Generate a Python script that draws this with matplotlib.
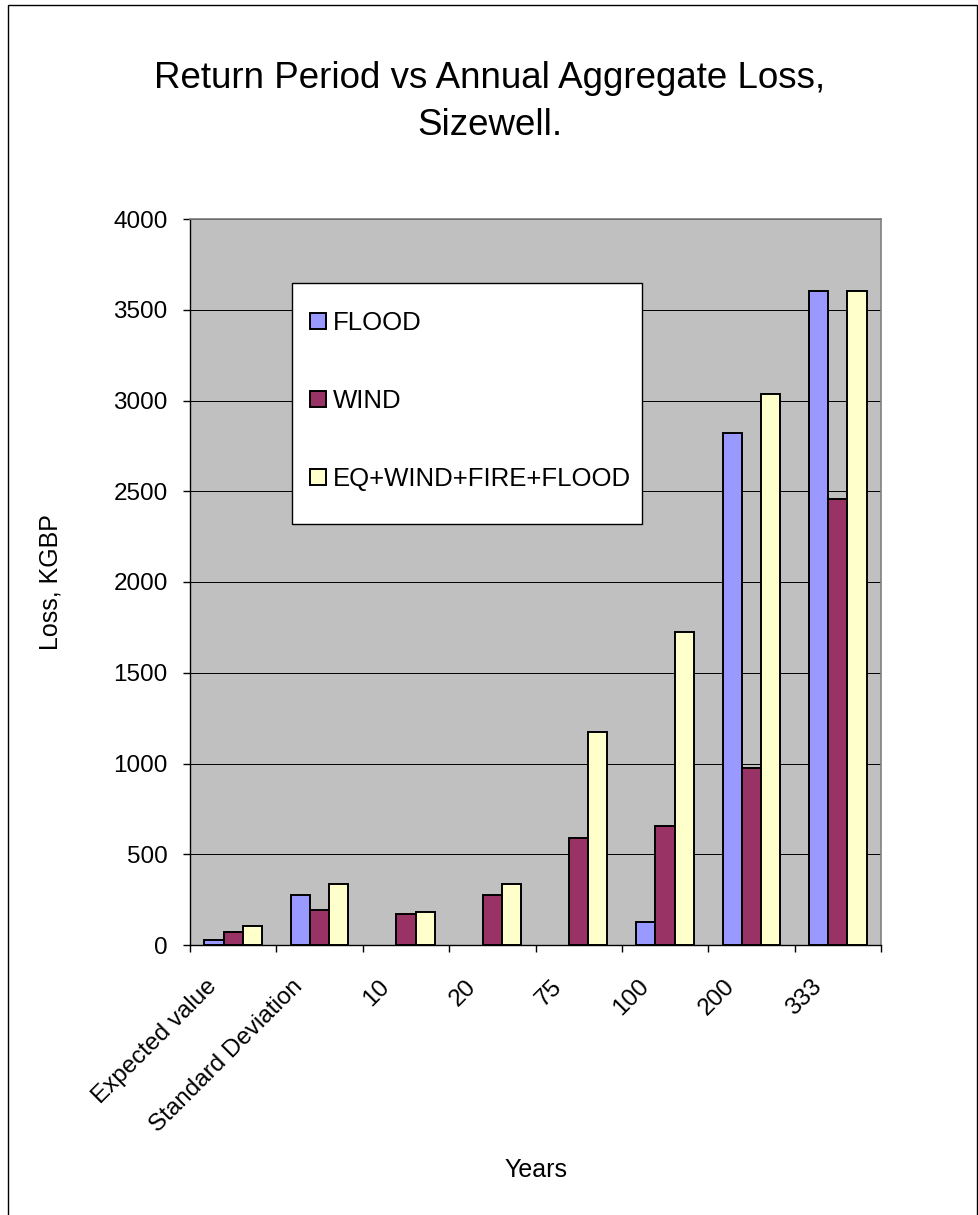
import numpy as np
import matplotlib
matplotlib.use("Agg")
import matplotlib.pyplot as plt
from matplotlib.patches import Rectangle
from matplotlib.transforms import ScaledTranslation

plt.rcParams['font.family'] = ['Liberation Sans', 'DejaVu Sans']

# data (KGBP); no FLOOD bar at 10, 20, 75 years
categories = ['Expected value', 'Standard Deviation', '10', '20', '75', '100', '200', '333']
flood = [25, 278, np.nan, np.nan, np.nan, 127, 2820, 3602]
wind = [70, 191, 170, 278, 592, 655, 976, 2455]
all_perils = [102, 337, 180, 337, 1173, 1725, 3036, 3602]
series_names = ['FLOOD', 'WIND', 'EQ+WIND+FIRE+FLOOD']
colors = ['#9999FF', '#993366', '#FFFFCC']

W, H = 979, 1215
fig = plt.figure(figsize=(W / 100, H / 100), dpi=100)

# outer chart frame
fig.patches.append(Rectangle((8 / W, -0.01), (977 - 8) / W, 1.01 - 5 / H,
                             transform=fig.transFigure, fill=False,
                             edgecolor='black', linewidth=1.0))

ax = fig.add_axes([190 / W, 1 - 945 / H, 691 / W, 726 / H])
ax.set_facecolor('#C0C0C0')

x = np.arange(len(categories))
w = 1 / 4.5
for i, (vals, name, c) in enumerate(zip([flood, wind, all_perils], series_names, colors)):
    ax.bar(x + (i - 1) * w, vals, width=w, color=c, edgecolor='black',
           linewidth=1.4, label=name, zorder=3)

ax.set_xlim(-0.5, len(categories) - 0.5)
ax.set_ylim(0, 4000)
ax.set_yticks(np.arange(0, 4001, 500))
ax.yaxis.grid(True, color='black', linewidth=0.7)
ax.set_axisbelow(True)

for side in ['top', 'right']:
    ax.spines[side].set_color('#808080')
    ax.spines[side].set_linewidth(1.2)
for side in ['left', 'bottom']:
    ax.spines[side].set_color('black')
    ax.spines[side].set_linewidth(1.0)

ax.tick_params(axis='y', direction='out', length=5, width=1, pad=11, labelsize=17.5)

# tick marks at category boundaries, labels at the centres
ax.set_xticks(np.arange(-0.5, len(categories), 1.0), minor=True)
ax.tick_params(axis='x', which='minor', direction='out', length=5, width=1)
ax.set_xticks(x)
ax.set_xticklabels(categories, rotation=45, ha='right', va='top', fontsize=17.5)
ax.tick_params(axis='x', which='major', length=0, pad=22)
for lab in ax.get_xticklabels():
    lab.set_transform(lab.get_transform() + ScaledTranslation(-0.12, 0, fig.dpi_scale_trans))

ax.set_ylabel('Loss, KGBP', fontsize=18)
ax.yaxis.set_label_coords(-0.184, 0.5)
ax.set_xlabel('Years', fontsize=18)
ax.xaxis.set_label_coords(0.5, -0.293)

fig.text(490 / W, 1 - 102 / H, 'Return Period vs Annual Aggregate Loss,\nSizewell.',
         ha='center', va='center', fontsize=26.5, linespacing=1.45)

# legend box
ax.add_patch(Rectangle(((292 - 190) / 691, (945 - 524) / 726), 350 / 691, 241 / 726,
                       transform=ax.transAxes, facecolor='white', edgecolor='black',
                       linewidth=1.0, zorder=5))
leg = ax.legend(loc='center left', bbox_to_anchor=(297 / W, 1 - 401 / H),
                bbox_transform=fig.transFigure, frameon=False, fontsize=18.5,
                borderpad=0, labelspacing=2.1, handlelength=0.62, handleheight=0.62,
                handletextpad=0.28)
leg.set_zorder(6)

fig.savefig('out.png', dpi=100)
